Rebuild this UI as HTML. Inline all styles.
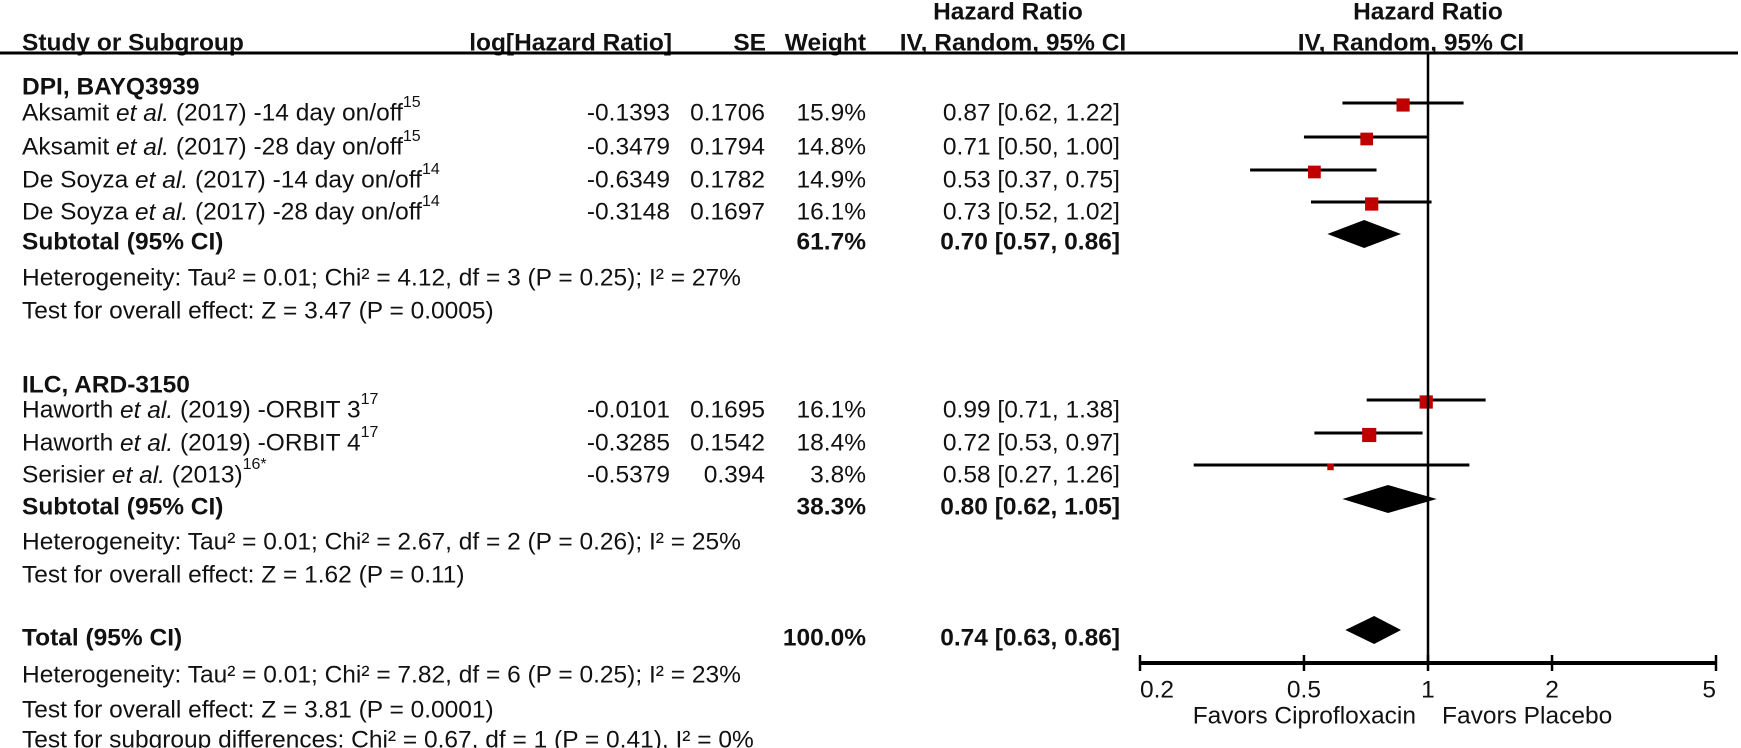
<!DOCTYPE html>
<html><head><meta charset="utf-8"><style>
html,body{margin:0;padding:0;background:#fff;}
svg{display:block;font-family:"Liberation Sans",sans-serif;}
</style></head><body>
<svg id="chart" width="1741" height="748" viewBox="0 0 1741 748" xmlns="http://www.w3.org/2000/svg">
<g id="txt"></g>
<g id="plot"></g>
</svg>
<script>
const studyNames=["Aksamit","Aksamit","De Soyza","De Soyza","Haworth","Haworth","Serisier"];
const studySuffix=[" (2017) -14 day on/off"," (2017) -28 day on/off"," (2017) -14 day on/off"," (2017) -28 day on/off"," (2019) -ORBIT 3"," (2019) -ORBIT 4"," (2013)"];
const studyRefs=["15","15","14","14","17","17","16*"];
const logHR=["-0.1393","-0.3479","-0.6349","-0.3148","-0.0101","-0.3285","-0.5379"];
const seVals=["0.1706","0.1794","0.1782","0.1697","0.1695","0.1542","0.394"];
const weights=[15.9,14.8,14.9,16.1,16.1,18.4,3.8];
const hr=[0.87,0.71,0.53,0.73,0.99,0.72,0.58];
const lo=[0.62,0.50,0.37,0.52,0.71,0.53,0.27];
const hi=[1.22,1.00,0.75,1.02,1.38,0.97,1.26];
const studyRowY=[113,147,180,212,410,443,475];
const subHR=[0.70,0.80,0.74];
const subLo=[0.57,0.62,0.63];
const subHi=[0.86,1.05,0.86];
const subW=["61.7%","38.3%","100.0%"];
const subRowY=[242,507,638];
const subLabels=["Subtotal (95% CI)","Subtotal (95% CI)","Total (95% CI)"];
const ticks=[0.2,0.5,1,2,5];

const NS="http://www.w3.org/2000/svg";
const txt=document.getElementById('txt'), plot=document.getElementById('plot');
const SX=1;
function xs(v){return 1428+288*Math.log10(v)/Math.log10(5);}
function T(x,y,s,anchor,bold,name,size){
  const t=document.createElementNS(NS,'text');
  t.setAttribute('x',x/SX);t.setAttribute('y',y);
  t.setAttribute('dominant-baseline','central');
  t.setAttribute('font-size',size||24.5);
  if(anchor)t.setAttribute('text-anchor',anchor);
  if(bold)t.setAttribute('font-weight','bold');
  t.setAttribute('fill','#111');
  t.textContent=s;
  
  
  txt.appendChild(t);return t;
}
function L(x1,y1,x2,y2,w,name){
  const l=document.createElementNS(NS,'line');
  l.setAttribute('x1',x1);l.setAttribute('y1',y1);l.setAttribute('x2',x2);l.setAttribute('y2',y2);
  l.setAttribute('stroke','#000');l.setAttribute('stroke-width',w);
  
  
  plot.appendChild(l);return l;
}
// headers
T(1008,12,"Hazard Ratio","middle",true,"hr-header-1");
T(1428,12,"Hazard Ratio","middle",true,"hr-header-2");
T(22,43,"Study or Subgroup",null,true,"study-header");
T(672,43,"log[Hazard Ratio]","end",true,"loghr-header");
T(766,43,"SE","end",true,"se-header");
T(866,43,"Weight","end",true,"weight-header");
T(1013,43,"IV, Random, 95% CI","middle",true,"ci-header");
T(1411,43,"IV, Random, 95% CI","middle",true,"plot-ci-header");
L(0,53,1738,53,3,"header-rule");
T(22,87,"DPI, BAYQ3939",null,true,"group-dpi-title");
T(22,385,"ILC, ARD-3150",null,true,"group-ilc-title");
// study rows
for(let i=0;i<studyNames.length;i++){
  const y=studyRowY[i];
  const t=T(22,y,studyNames[i],null,false,"study-name");
  const it=document.createElementNS(NS,'tspan');it.setAttribute('font-style','italic');it.textContent="et al.";
  t.appendChild(document.createTextNode(" "));t.appendChild(it);
  t.appendChild(document.createTextNode(studySuffix[i]));
  const sp=document.createElementNS(NS,'tspan');sp.setAttribute('font-size','16');sp.setAttribute('dy','-11');sp.textContent=studyRefs[i];
  t.appendChild(sp);
  T(670,y,logHR[i],"end",false,"loghr-value");
  T(765,y,seVals[i],"end",false,"se-value");
  T(866,y,weights[i].toFixed(1)+"%","end",false,"weight-value");
  T(1120,y,hr[i].toFixed(2)+" ["+lo[i].toFixed(2)+", "+hi[i].toFixed(2)+"]","end",false,"hr-ci-value");
  const my=y-10;
  L(xs(lo[i]),my,xs(hi[i]),my,3,"ci-line");
  const s=3.3*Math.sqrt(weights[i]);
  const r=document.createElementNS(NS,'rect');
  r.setAttribute('x',xs(hr[i])-s/2);r.setAttribute('y',my-s/2+2);r.setAttribute('width',s);r.setAttribute('height',s);
  r.setAttribute('fill','#c00000');
  
  
  plot.appendChild(r);
}
// subtotals
for(let j=0;j<subHR.length;j++){
  const y=subRowY[j];
  T(22,y,subLabels[j],null,true,"subtotal-label");
  T(866,y,subW[j],"end",true,"subtotal-weight");
  T(1120,y,subHR[j].toFixed(2)+" ["+subLo[j].toFixed(2)+", "+subHi[j].toFixed(2)+"]","end",true,"subtotal-ci");
  const my=y-8;
  const p=document.createElementNS(NS,'polygon');
  p.setAttribute('points',[xs(subLo[j])+","+my,xs(subHR[j])+","+(my-14),xs(subHi[j])+","+my,xs(subHR[j])+","+(my+14)].join(" "));
  p.setAttribute('fill','#000');
  
  
  plot.appendChild(p);
}
// stats text
T(22,278,"Heterogeneity: Tau² = 0.01; Chi² = 4.12, df = 3 (P = 0.25); I² = 27%",null,false,"dpi-heterogeneity");
T(22,311,"Test for overall effect: Z = 3.47 (P = 0.0005)",null,false,"dpi-overall-test");
T(22,542,"Heterogeneity: Tau² = 0.01; Chi² = 2.67, df = 2 (P = 0.26); I² = 25%",null,false,"ilc-heterogeneity");
T(22,575,"Test for overall effect: Z = 1.62 (P = 0.11)",null,false,"ilc-overall-test");
T(22,675,"Heterogeneity: Tau² = 0.01; Chi² = 7.82, df = 6 (P = 0.25); I² = 23%",null,false,"total-heterogeneity");
T(22,710,"Test for overall effect: Z = 3.81 (P = 0.0001)",null,false,"total-overall-test");
T(22,740,"Test for subgroup differences: Chi² = 0.67, df = 1 (P = 0.41), I² = 0%",null,false,"subgroup-diff-test");
// axis
L(xs(1),54,xs(1),663,2.5,"null-line");
L(xs(0.2),663,xs(5),663,4,"x-axis");
ticks.forEach(v=>{
  L(xs(v),655,xs(v),671,2.5,"x-tick");
  T(xs(v),690,String(v),v===0.2?"start":(v===5?"end":"middle"),false,"x-tick-label");
});
T(1416,716,"Favors Ciprofloxacin","end",false,"favors-ciprofloxacin-label");
T(1442,716,"Favors Placebo","start",false,"favors-placebo-label");
</script>
</body></html>
